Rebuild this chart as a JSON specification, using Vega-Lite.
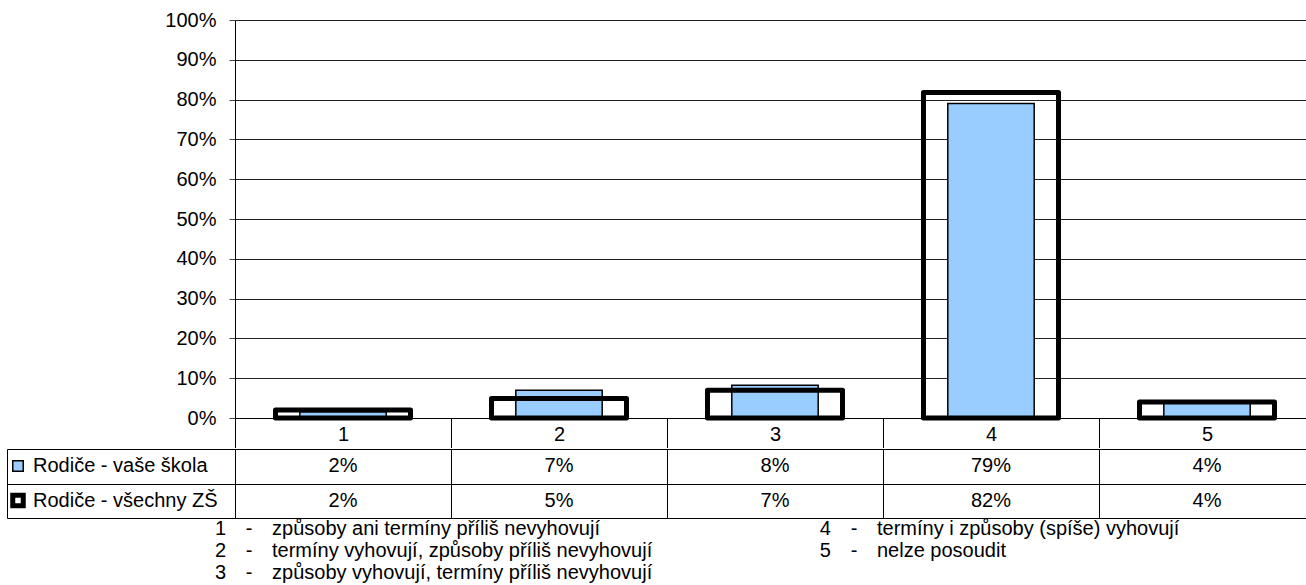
{
  "$schema": "https://vega.github.io/schema/vega-lite/v6.json",
  "padding": {"left": 6, "top": 10, "right": 0, "bottom": 0},
  "background": "white",
  "config": {
    "font": "Liberation Sans",
    "view": {"stroke": null},
    "axis": {"labelFont": "Liberation Sans", "labelColor": "black", "labelFontSize": 20, "titleFont": "Liberation Sans"},
    "text": {"font": "Liberation Sans", "fontSize": 20, "color": "black"}
  },
  "datasets": {
    "hodnoty": [
      {"kategorie": "1", "skupina": "Rodiče - vaše škola", "podil": 0.016},
      {"kategorie": "2", "skupina": "Rodiče - vaše škola", "podil": 0.07},
      {"kategorie": "3", "skupina": "Rodiče - vaše škola", "podil": 0.082},
      {"kategorie": "4", "skupina": "Rodiče - vaše škola", "podil": 0.79},
      {"kategorie": "5", "skupina": "Rodiče - vaše škola", "podil": 0.038},
      {"kategorie": "1", "skupina": "Rodiče - všechny ZŠ", "podil": 0.02},
      {"kategorie": "2", "skupina": "Rodiče - všechny ZŠ", "podil": 0.049},
      {"kategorie": "3", "skupina": "Rodiče - všechny ZŠ", "podil": 0.07},
      {"kategorie": "4", "skupina": "Rodiče - všechny ZŠ", "podil": 0.818},
      {"kategorie": "5", "skupina": "Rodiče - všechny ZŠ", "podil": 0.04}
    ],
    "popisky": [
      {"kod": "1", "popis": "způsoby ani termíny příliš nevyhovují", "sloupec": "A", "radek": 1},
      {"kod": "2", "popis": "termíny vyhovují, způsoby příliš nevyhovují", "sloupec": "A", "radek": 2},
      {"kod": "3", "popis": "způsoby vyhovují, termíny příliš nevyhovují", "sloupec": "A", "radek": 3},
      {"kod": "4", "popis": "termíny i způsoby (spíše) vyhovují", "sloupec": "B", "radek": 1},
      {"kod": "5", "popis": "nelze posoudit", "sloupec": "B", "radek": 2}
    ]
  },
  "resolve": {"legend": {"fill": "independent", "stroke": "independent", "strokeWidth": "independent"}},
  "spacing": 0,
  "vconcat": [
    {
      "width": 1080,
      "height": 398,
      "data": {"name": "hodnoty"},
      "encoding": {
        "x": {
          "field": "kategorie", "type": "nominal",
          "scale": {"domain": ["1", "2", "3", "4", "5"], "paddingInner": 0, "paddingOuter": 0},
          "axis": {"title": null, "labelAngle": 0, "tickBand": "extent", "tickSize": 29.5, "tickColor": "black", "domainColor": "black", "labelPadding": -13, "labelBaseline": "middle", "grid": false}
        },
        "y": {
          "field": "podil", "type": "quantitative",
          "scale": {"domain": [0, 1], "nice": false},
          "axis": {"title": null, "format": ".0%", "values": [0, 0.1, 0.2, 0.3, 0.4, 0.5, 0.6, 0.7, 0.8, 0.9, 1], "grid": true, "gridColor": "#222", "gridOpacity": 1, "tickSize": 6, "tickColor": "#444", "domainColor": "black", "labelPadding": 13}
        },
        "fill": {
          "field": "skupina", "type": "nominal",
          "scale": {"domain": ["Rodiče - vaše škola", "Rodiče - všechny ZŠ"], "range": ["#99CCFF", "transparent"]},
          "legend": null
        },
        "stroke": {
          "field": "skupina", "type": "nominal",
          "scale": {"domain": ["Rodiče - vaše škola", "Rodiče - všechny ZŠ"], "range": ["black", "black"]},
          "legend": null
        },
        "strokeWidth": {
          "field": "skupina", "type": "nominal",
          "scale": {"domain": ["Rodiče - vaše škola", "Rodiče - všechny ZŠ"], "range": [1.5, 5]},
          "legend": null
        }
      },
      "layer": [
        {
          "transform": [{"filter": "datum.skupina === 'Rodiče - vaše škola'"}],
          "mark": {"type": "bar", "width": {"band": 0.4}}
        },
        {
          "transform": [{"filter": "datum.skupina === 'Rodiče - všechny ZŠ'"}],
          "mark": {"type": "bar", "width": {"band": 0.625}, "strokeJoin": "round"}
        }
      ]
    },
    {
      "width": 1080,
      "height": 69,
      "data": {"name": "hodnoty"},
      "resolve": {"axis": {"y": "independent"}},
      "layer": [
        {
          "mark": {"type": "text", "baseline": "middle", "align": "center"},
          "encoding": {
            "x": {
              "field": "kategorie", "type": "nominal",
              "scale": {"domain": ["1", "2", "3", "4", "5"], "paddingInner": 0, "paddingOuter": 0},
              "axis": {"title": null, "orient": "top", "grid": true, "gridColor": "black", "gridOpacity": 1, "tickBand": "extent", "labels": false, "ticks": false, "domain": false}
            },
            "y": {
              "field": "skupina", "type": "nominal",
              "scale": {"domain": ["Rodiče - vaše škola", "Rodiče - všechny ZŠ"], "paddingInner": 0, "paddingOuter": 0},
              "axis": {"title": null, "grid": true, "gridColor": "black", "gridOpacity": 1, "tickBand": "extent", "tickSize": 228, "tickColor": "black", "domainColor": "black", "labels": false}
            },
            "text": {"field": "podil", "type": "quantitative", "format": ".0%"}
          }
        },
        {
          "mark": {"type": "text"},
          "encoding": {
            "y": {
              "field": "skupina", "type": "nominal",
              "axis": {"title": null, "orient": "left", "offset": 228, "grid": false, "ticks": false, "labels": false, "domain": true, "domainColor": "black"}
            },
            "text": {"value": ""},
            "fill": {
              "field": "skupina", "type": "nominal",
              "scale": {"domain": ["Rodiče - vaše škola", "Rodiče - všechny ZŠ"], "range": ["#99CCFF", "transparent"]},
              "legend": {"title": null, "orient": "none", "legendX": -227, "legendY": 7, "symbolType": "square", "symbolSize": 110, "labelFontSize": 20, "labelFont": "Liberation Sans", "labelColor": "black", "labelLimit": 0, "rowPadding": 8.5, "labelOffset": 5, "padding": 0, "symbolOpacity": 1}
            },
            "stroke": {
              "field": "skupina", "type": "nominal",
              "scale": {"domain": ["Rodiče - vaše škola", "Rodiče - všechny ZŠ"], "range": ["black", "black"]},
              "legend": {"title": null, "orient": "none", "legendX": -227, "legendY": 7, "symbolType": "square", "symbolSize": 110, "labelFontSize": 20, "labelFont": "Liberation Sans", "labelColor": "black", "labelLimit": 0, "rowPadding": 8.5, "labelOffset": 5, "padding": 0, "symbolOpacity": 1}
            },
            "strokeWidth": {
              "field": "skupina", "type": "nominal",
              "scale": {"domain": ["Rodiče - vaše škola", "Rodiče - všechny ZŠ"], "range": [1.5, 5]},
              "legend": {"title": null, "orient": "none", "legendX": -227, "legendY": 7, "symbolType": "square", "symbolSize": 110, "labelFontSize": 20, "labelFont": "Liberation Sans", "labelColor": "black", "labelLimit": 0, "rowPadding": 8.5, "labelOffset": 5, "padding": 0, "symbolOpacity": 1}
            }
          }
        }
      ]
    },
    {
      "width": 679,
      "height": 44,
      "data": {"name": "popisky"},
      "encoding": {
        "x": {"field": "sloupec", "type": "ordinal", "scale": {"type": "point", "domain": ["A", "B"], "padding": 0.0612}, "axis": null},
        "y": {"field": "radek", "type": "ordinal", "scale": {"type": "point", "domain": [1, 2, 3], "padding": 0}, "axis": null}
      },
      "layer": [
        {"mark": {"type": "text", "align": "left", "baseline": "middle"}, "encoding": {"text": {"field": "popis"}}},
        {"mark": {"type": "text", "align": "center", "baseline": "middle", "dx": -23}, "encoding": {"text": {"value": "-"}}},
        {"mark": {"type": "text", "align": "right", "baseline": "middle", "dx": -46}, "encoding": {"text": {"field": "kod"}}}
      ]
    }
  ]
}
